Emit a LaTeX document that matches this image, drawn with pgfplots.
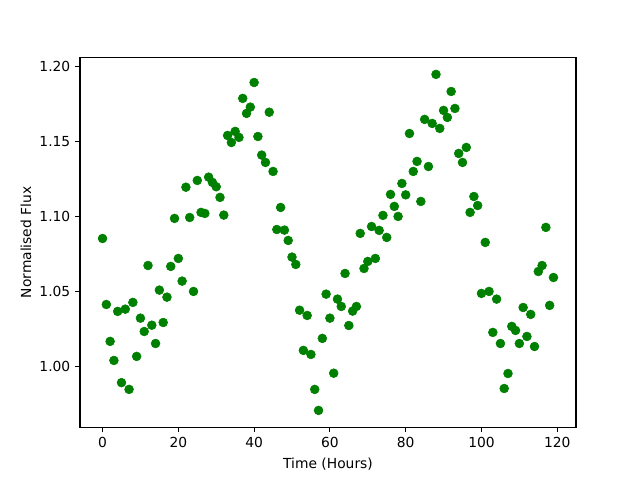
\documentclass[border=0pt]{standalone}
\usepackage{pgfplots}
\pgfplotsset{compat=1.18}
\usepackage{fontspec}
\setmainfont{DejaVu Sans}
\definecolor{mplgreen}{RGB}{0,128,0}
\begin{document}
\begin{tikzpicture}
\useasboundingbox (0,0) rectangle (460.8bp,345.6bp);
\begin{axis}[
  at={(57.6bp,38.016bp)}, anchor=south west,
  scale only axis, width=357.12bp, height=266.11bp,
  xmin=-5.95, xmax=124.95, ymin=0.9593, ymax=1.2057,
  xtick={0,20,40,60,80,100,120},
  ytick={1.00,1.05,1.10,1.15,1.20},
  yticklabel style={/pgf/number format/.cd,fixed,fixed zerofill,precision=2},
  /pgf/number format/assume math mode=true,
  tick align=outside, major tick length=3.5pt,
  tick style={black, line width=0.8pt},
  axis line style={line width=0.8pt},
  xtick pos=bottom, ytick pos=left,
  ticklabel style={font=\fontsize{10}{12}\selectfont},
  label style={font=\fontsize{10}{12}\selectfont},
  xlabel={Time (Hours)}, ylabel={Normalised Flux},
  xlabel style={yshift=-0.5pt},
  ylabel style={yshift=-1pt},
]
\addplot[only marks, mark=*, mark size=3.2pt, color=mplgreen, mark options={fill=mplgreen, draw=mplgreen}] table {
x y
0 1.0851
1 1.0411
2 1.0165
3 1.0038
4 1.0365
5 0.9890
6 1.0380
7 0.9845
8 1.0425
9 1.0065
10 1.0320
11 1.0231
12 1.0671
13 1.0273
14 1.0151
15 1.0507
16 1.0291
17 1.0460
18 1.0665
19 1.0985
20 1.0718
21 1.0567
22 1.1193
23 1.0991
24 1.0498
25 1.1238
26 1.1025
27 1.1018
28 1.1260
29 1.1225
30 1.1196
31 1.1125
32 1.1007
33 1.1538
34 1.1491
35 1.1565
36 1.1525
37 1.1785
38 1.1685
39 1.1727
40 1.1891
41 1.1531
42 1.1407
43 1.1358
44 1.1693
45 1.1298
46 1.0911
47 1.1058
48 1.0907
49 1.0838
50 1.0727
51 1.0678
52 1.0373
53 1.0105
54 1.0338
55 1.0078
56 0.9845
57 0.9705
58 1.0185
59 1.0480
60 1.0320
61 0.9953
62 1.0447
63 1.0398
64 1.0618
65 1.0271
66 1.0367
67 1.0398
68 1.0885
69 1.0651
70 1.0698
71 1.0931
72 1.0718
73 1.0905
74 1.1005
75 1.0858
76 1.1145
77 1.1065
78 1.0998
79 1.1218
80 1.1142
81 1.1551
82 1.1298
83 1.1365
84 1.1098
85 1.1645
86 1.1331
87 1.1618
88 1.1945
89 1.1585
90 1.1705
91 1.1658
92 1.1831
93 1.1718
94 1.1418
95 1.1358
96 1.1458
97 1.1025
98 1.1131
99 1.1071
100 1.0485
101 1.0825
102 1.0498
103 1.0225
104 1.0447
105 1.0151
106 0.9851
107 0.9951
108 1.0265
109 1.0238
110 1.0151
111 1.0391
112 1.0198
113 1.0345
114 1.0131
115 1.0631
116 1.0671
117 1.0925
118 1.0405
119 1.0591
};
\end{axis}
\end{tikzpicture}
\end{document}
